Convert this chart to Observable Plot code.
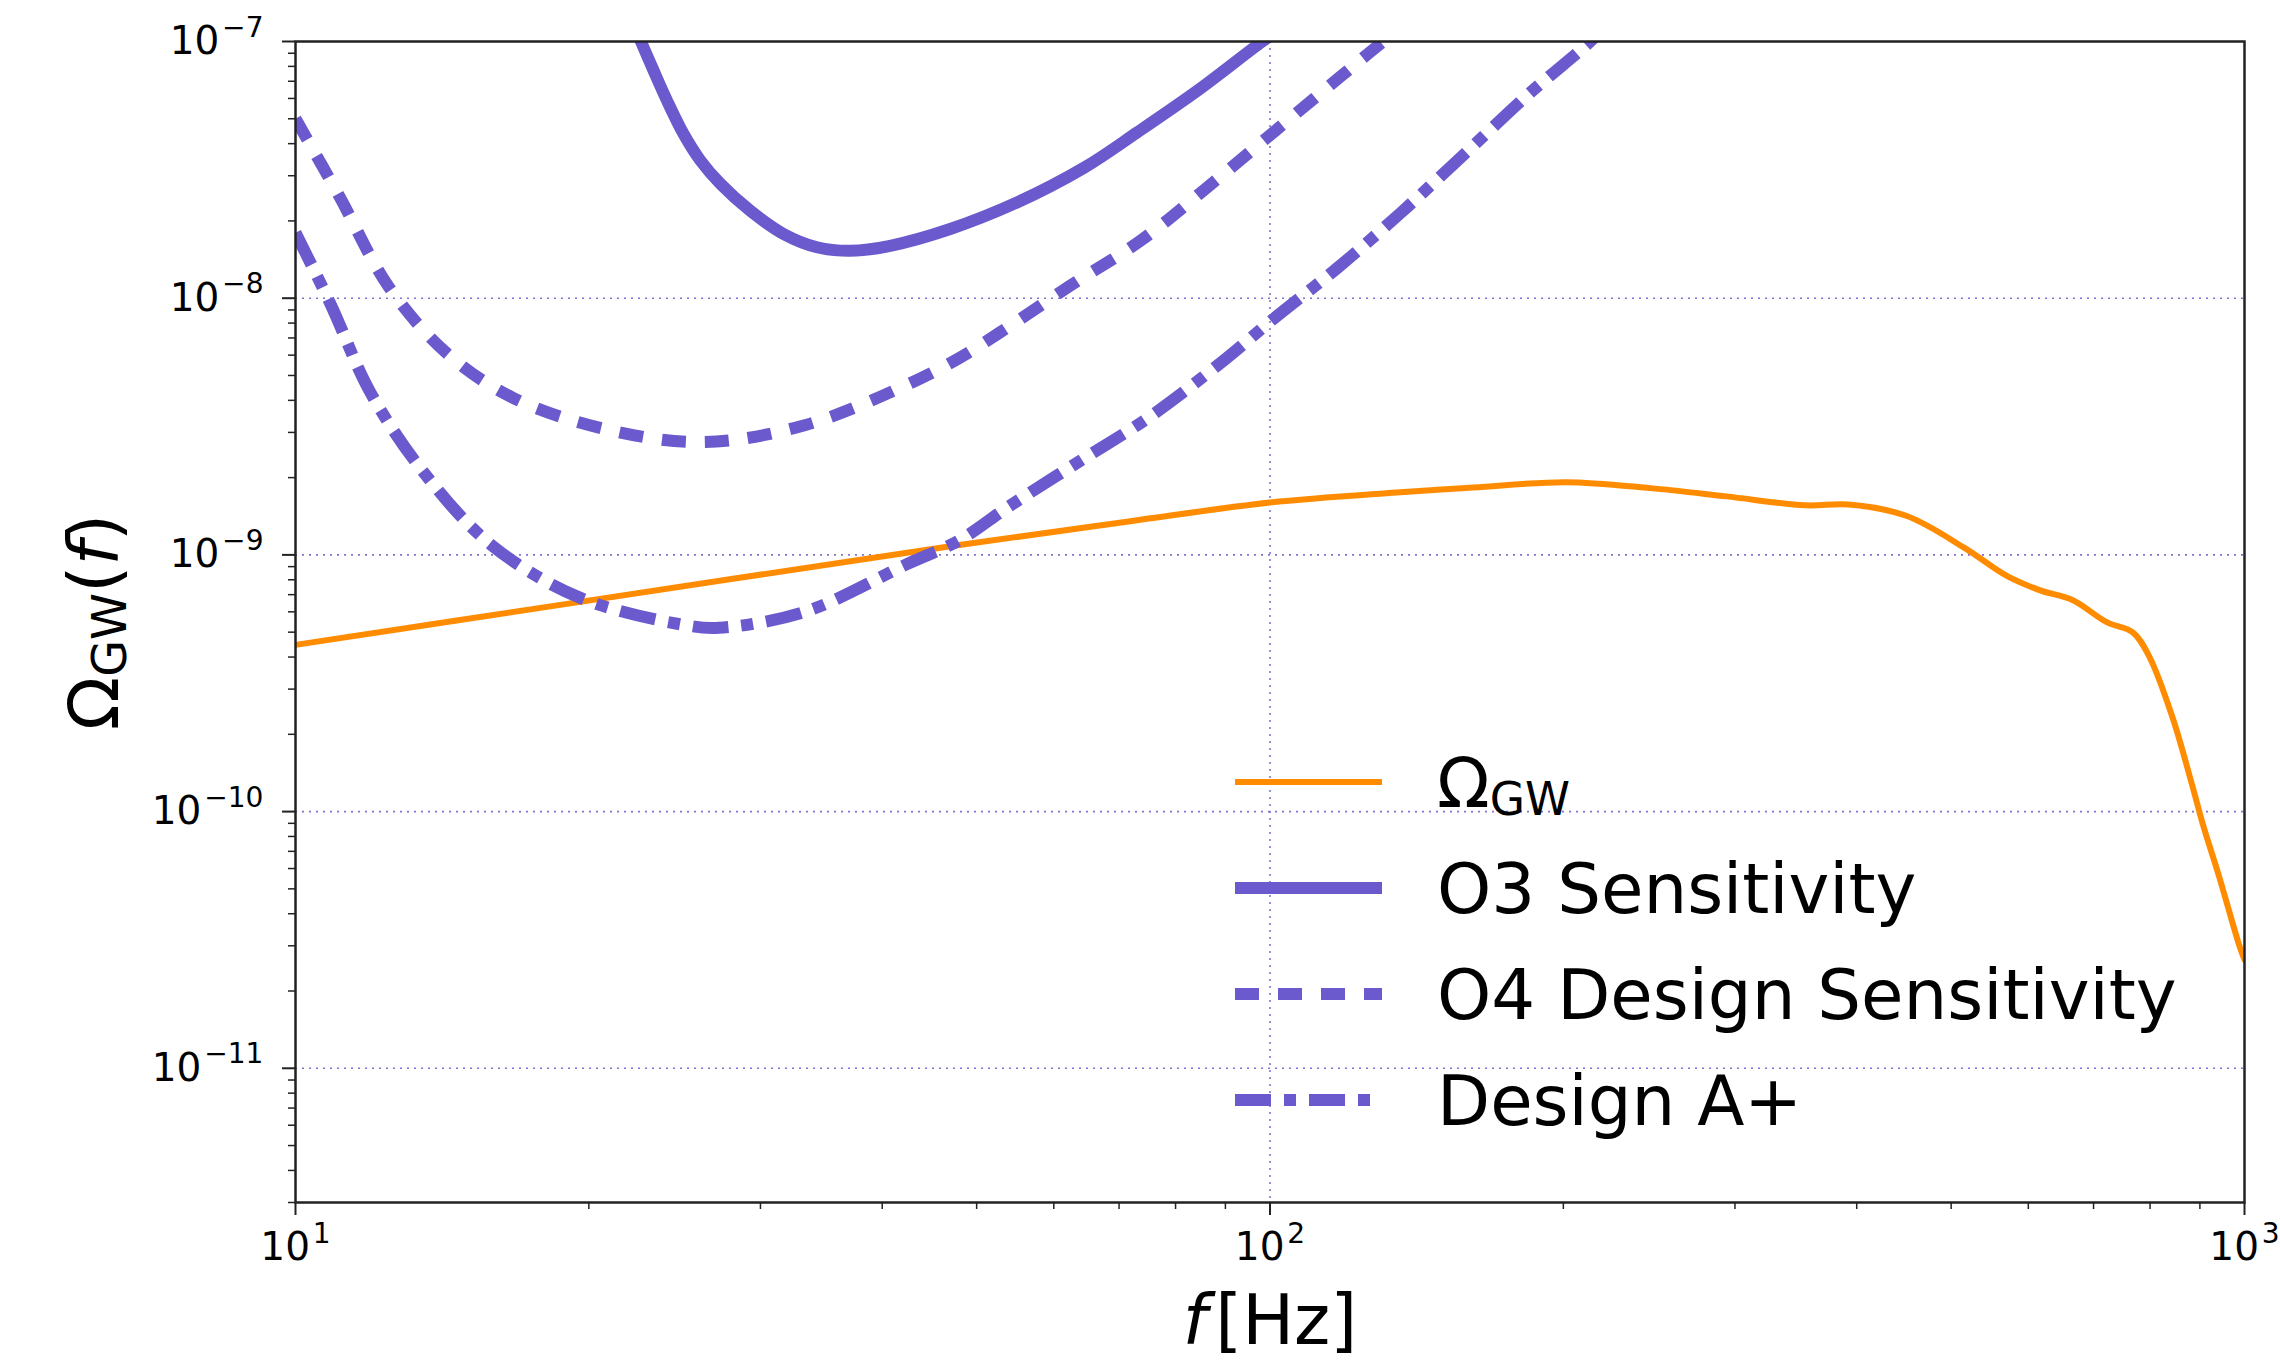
<!DOCTYPE html>
<html>
<head>
<meta charset="utf-8">
<script src="https://cdn.jsdelivr.net/npm/d3@7"></script>
<script src="https://cdn.jsdelivr.net/npm/@observablehq/plot@0.6"></script>
<style>
html, body { margin: 0; padding: 0; background: #fff; }
#wrap { position: relative; width: 2280px; height: 1361px; font-family: "DejaVu Sans", sans-serif; }
#wrap > svg { position: absolute; left: 0; top: 0; }
</style>
</head>
<body>
<div id="wrap"></div>
<script>
// ---- Data ----
const gwFreq  = [10, 18.26, 47.0, 71.6, 100, 134.8, 161.8, 201.2, 245.5, 294, 354, 392.5, 449.6, 515, 571, 616, 666, 722, 767.6, 799, 843.5, 884.6, 905.7, 942, 988, 1000];
const gwOmega = [4.46e-10, 6.3e-10, 1.08e-9, 1.35e-9, 1.60e-9, 1.75e-9, 1.83e-9, 1.92e-9, 1.82e-9, 1.69e-9, 1.56e-9, 1.57e-9, 1.42e-9, 1.07e-9, 8.26e-10, 7.29e-10, 6.67e-10, 5.47e-10, 5.0e-10, 4.0e-10, 2.33e-10, 1.25e-10, 9.0e-11, 5.57e-11, 3.0e-11, 2.65e-11];

const o3Freq  = [22.2, 22.68, 23.31, 24.06, 25.02, 26.03, 27.29, 29.29, 31.68, 34.28, 37.09, 40.76, 46.97, 55.0, 64.5, 73.1, 84.8, 98.2, 104];
const o3Omega = [1.17e-7, 9.77e-8, 7.69e-8, 5.88e-8, 4.36e-8, 3.44e-8, 2.79e-8, 2.19e-8, 1.78e-8, 1.58e-8, 1.53e-8, 1.60e-8, 1.86e-8, 2.36e-8, 3.23e-8, 4.43e-8, 6.55e-8, 1.0e-7, 1.16e-7];

const o4Freq  = [10, 11.1, 12.46, 14.3, 16.7, 20.7, 26.2, 33.3, 42.4, 48.0, 52.7, 62.4, 73.9, 86.6, 101.4, 117.5, 129.2, 135];
const o4Omega = [5.0e-8, 2.48e-8, 1.11e-8, 6.1e-9, 4.1e-9, 3.1e-9, 2.75e-9, 3.2e-9, 4.6e-9, 5.85e-9, 7.31e-9, 1.12e-8, 1.69e-8, 2.74e-8, 4.51e-8, 7.18e-8, 9.66e-8, 1.1e-7];

const apFreq  = [10, 10.86, 11.95, 13.56, 15.9, 19.6, 25.3, 27.2, 33.3, 42.4, 48.0, 53.9, 63.8, 75.5, 90.3, 100.3, 117.5, 136.2, 157.9, 184.9, 209.9, 220];
const apOmega = [1.8e-8, 9.5e-9, 4.26e-9, 2.08e-9, 1.09e-9, 6.8e-10, 5.3e-10, 5.2e-10, 6.0e-10, 9.2e-10, 1.14e-9, 1.54e-9, 2.32e-9, 3.48e-9, 5.85e-9, 8.17e-9, 1.32e-8, 2.15e-8, 3.61e-8, 6.31e-8, 9.49e-8, 1.12e-7];

const legendLabels = ["Ω_GW", "O3 Sensitivity", "O4 Design Sensitivity", "Design A+"];

const majorY = [1e-11, 1e-10, 1e-9, 1e-8, 1e-7];
const gridYTicks = [1e-11, 1e-10, 1e-9, 1e-8];
const majorX = [10, 100, 1000];
const gridXTicks = [100];
const minorY = [3e-12, 4e-12, 5e-12, 6e-12, 7e-12, 8e-12, 9e-12,
  2e-11, 3e-11, 4e-11, 5e-11, 6e-11, 7e-11, 8e-11, 9e-11,
  2e-10, 3e-10, 4e-10, 5e-10, 6e-10, 7e-10, 8e-10, 9e-10,
  2e-9, 3e-9, 4e-9, 5e-9, 6e-9, 7e-9, 8e-9, 9e-9,
  2e-8, 3e-8, 4e-8, 5e-8, 6e-8, 7e-8, 8e-8, 9e-8];
const minorX = [20, 30, 40, 50, 60, 70, 80, 90, 200, 300, 400, 500, 600, 700, 800, 900];

// ---- Styles ----
const PURPLE = "#6a5acd";
const ORANGE = "#ff8c00";
const styles = [
  {stroke: ORANGE, strokeWidth: 6, dash: null},
  {stroke: PURPLE, strokeWidth: 12, dash: null},
  {stroke: PURPLE, strokeWidth: 12, dash: "24,19"},
  {stroke: PURPLE, strokeWidth: 12, dash: "36,13,12,13"}
];

const toRows = (fs, vs) => fs.map((f, i) => ({f, v: vs[i]}));
const gwRows = toRows(gwFreq, gwOmega);
const o3Rows = toRows(o3Freq, o3Omega);
const o4Rows = toRows(o4Freq, o4Omega);
const apRows = toRows(apFreq, apOmega);

const fmt = d => `10^${Math.round(Math.log10(d))}`;
const gridStyle = {stroke: PURPLE, strokeOpacity: 0.85, strokeWidth: 1.6, strokeDasharray: "2,5"};
const AX = "#222";

const chart = Plot.plot({
  width: 2280,
  height: 1361,
  marginLeft: 295,
  marginRight: 36,
  marginTop: 41,
  marginBottom: 159,
  style: {fontFamily: "'DejaVu Sans', sans-serif", background: "white", color: "#000"},
  x: {type: "log", domain: [10, 1000]},
  y: {type: "log", domain: [3e-12, 1e-7]},
  marks: [
    Plot.gridY(gridYTicks, gridStyle),
    Plot.gridX(gridXTicks, gridStyle),
    Plot.line(gwRows, {x: "f", y: "v", stroke: styles[0].stroke, strokeWidth: styles[0].strokeWidth, curve: "catmull-rom", clip: true}),
    Plot.line(o3Rows, {x: "f", y: "v", stroke: styles[1].stroke, strokeWidth: styles[1].strokeWidth, curve: "catmull-rom", clip: true}),
    Plot.line(o4Rows, {x: "f", y: "v", stroke: styles[2].stroke, strokeWidth: styles[2].strokeWidth, strokeDasharray: styles[2].dash, strokeLinecap: "butt", curve: "catmull-rom", clip: true}),
    Plot.line(apRows, {x: "f", y: "v", stroke: styles[3].stroke, strokeWidth: styles[3].strokeWidth, strokeDasharray: styles[3].dash, strokeLinecap: "butt", curve: "catmull-rom", clip: true}),
    Plot.frame({stroke: AX, strokeWidth: 2.5}),
    Plot.axisY(minorY, {tickSize: 7, stroke: AX, strokeWidth: 1.5, tickFormat: () => "", label: null}),
    Plot.axisY(majorY, {tickSize: 13, stroke: AX, strokeWidth: 2, tickPadding: 19, fontSize: 39, tickFormat: fmt, label: null}),
    Plot.axisX(minorX, {tickSize: 7, stroke: AX, strokeWidth: 1.5, tickFormat: () => "", label: null}),
    Plot.axisX(majorX, {tickSize: 13, stroke: AX, strokeWidth: 2, tickPadding: 17, fontSize: 39, tickFormat: fmt, label: null})
  ]
});

// superscript exponents in tick labels
chart.querySelectorAll('g[aria-label$="tick label"] text').forEach(t => {
  const s = t.textContent;
  if (!s.includes("^")) return;
  const [b, e] = s.split("^");
  t.textContent = "";
  const ns = "http://www.w3.org/2000/svg";
  const t1 = document.createElementNS(ns, "tspan");
  t1.textContent = b;
  const t2 = document.createElementNS(ns, "tspan");
  t2.textContent = e.replace("-", "\u2212");
  t2.setAttribute("dy", "-0.62em");
  t2.setAttribute("dx", "0.1em");
  t2.setAttribute("font-size", "0.72em");
  t.appendChild(t1);
  t.appendChild(t2);
});

const svg = d3.select(chart);
// y-axis label: Ω_GW(f)
const yl = svg.append("text")
  .attr("transform", "translate(118,622) rotate(-90)")
  .attr("text-anchor", "middle")
  .attr("font-size", 70)
  .attr("fill", "#000");
yl.append("tspan").text("Ω");
yl.append("tspan").attr("font-size", "0.68em").attr("dy", "0.16em").text("GW");
yl.append("tspan").attr("dy", "-0.11em").text("(");
yl.append("tspan").attr("font-style", "italic").text("f");
yl.append("tspan").text(")");

// x-axis label: f [Hz]
const xl = svg.append("text")
  .attr("x", 1270).attr("y", 1344)
  .attr("text-anchor", "middle")
  .attr("font-size", 69)
  .attr("fill", "#000");
xl.append("tspan").attr("font-style", "italic").text("f");
xl.append("tspan").attr("dx", "0.12em").text("[Hz]");

document.getElementById("wrap").appendChild(chart);

// ---- Legend overlay ----
const leg = d3.select("#wrap").append("svg")
  .attr("width", 2280).attr("height", 1361)
  .style("pointer-events", "none");
const rowY = [782, 888, 994, 1100];
legendLabels.forEach((lab, i) => {
  const s = styles[i];
  leg.append("line")
    .attr("x1", 1235).attr("x2", 1382)
    .attr("y1", rowY[i]).attr("y2", rowY[i])
    .attr("stroke", s.stroke).attr("stroke-width", s.strokeWidth)
    .attr("stroke-dasharray", s.dash)
    .attr("stroke-linecap", "butt");
  const t = leg.append("text")
    .attr("x", 1437).attr("y", rowY[i] + 25)
    .attr("font-size", 69)
    .attr("font-family", "'DejaVu Sans', sans-serif")
    .attr("fill", "#000");
  if (lab.includes("_")) {
    const [a, b] = lab.split("_");
    t.append("tspan").text(a);
    t.append("tspan").attr("font-size", "0.66em").attr("dy", "0.17em").text(b);
  } else {
    t.text(lab);
  }
});
</script>
</body>
</html>
